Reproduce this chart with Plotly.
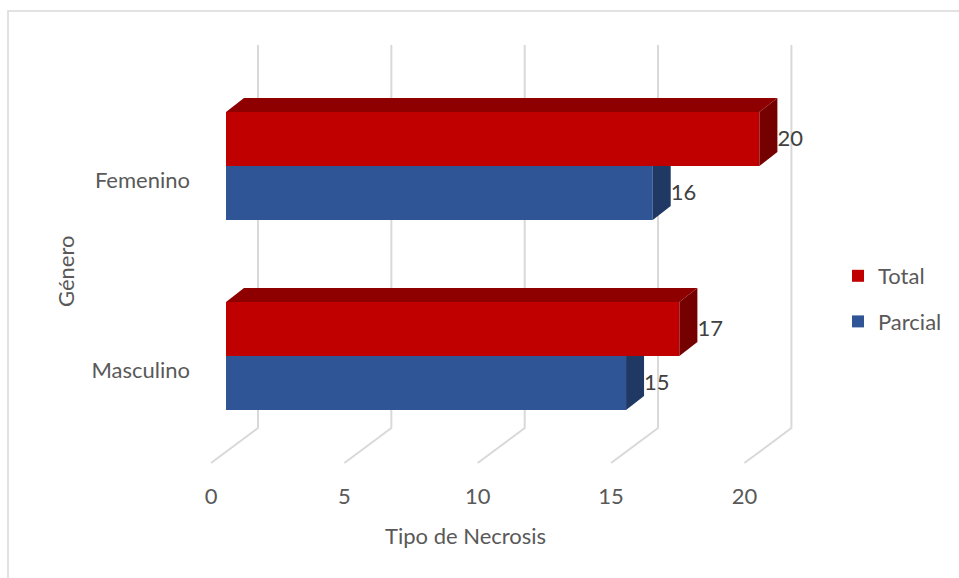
import plotly.graph_objects as go

# ---- data ----
categories = ["Masculino", "Femenino"]
total_vals = [17, 20]
parcial_vals = [15, 16]
x_ticks = [0, 5, 10, 15, 20]
series_names = ["Total", "Parcial"]

# ---- style / geometry constants (data units) ----
W, H = 959, 578
ML, MR, MT, MB = 195, 129, 40, 100
PX_PER_X = 26.67
PX_PER_Y = 190.0
plot_w = W - ML - MR
plot_h = H - MT - MB
x0 = -(226 - ML) / PX_PER_X
x1 = x0 + plot_w / PX_PER_X
y_top = (356 - MT) / PX_PER_Y
y_bot = y_top - plot_h / PX_PER_Y

bar_h = 54 / PX_PER_Y          # bar thickness
ddx = 18 / PX_PER_X            # 3D depth offset (x)
ddy = 14 / PX_PER_Y            # 3D depth offset (y)
wall_dx = 32 / PX_PER_X        # back wall offset from bar origin
floor_dx = 47 / PX_PER_X       # floor depth (x)
floor_dy = 35 / PX_PER_Y       # floor depth (y)
grid_top = (356 - 45) / PX_PER_Y
grid_bot = (356 - 428) / PX_PER_Y
label_shift = 14 / PX_PER_Y

RED, RED_TOP, RED_SIDE = "#C00000", "#8E0000", "#740000"
BLUE, BLUE_SIDE = "#2F5597", "#1F3864"
GRID = "#D9D9D9"
TXT = "#595959"
FONT = "Lato"

pos = list(range(len(categories)))

fig = go.Figure()

# gridlines (back wall + floor diagonals)
shapes = []
for t in x_ticks:
    xb = t + wall_dx
    xf = xb - floor_dx
    shapes.append(dict(type="path", xref="x", yref="y", layer="below",
                       path=f"M{xb},{grid_top} L{xb},{grid_bot} L{xf},{grid_bot - floor_dy}",
                       line=dict(color=GRID, width=2)))

# border of chart area
shapes.append(dict(type="rect", xref="paper", yref="paper",
                   x0=(8 - ML) / plot_w, x1=(968 - ML) / plot_w,
                   y0=(H - MB - 588) / plot_h, y1=(H - MB - 11) / plot_h,
                   line=dict(color=GRID, width=1.5), fillcolor="rgba(0,0,0,0)", layer="below"))

# front faces
fig.add_trace(go.Bar(name="Total", y=pos, x=total_vals, base=0, orientation="h",
                     width=bar_h, offset=0, marker=dict(color=RED, line=dict(width=0)),
                     legendgroup="a", legendrank=1))
fig.add_trace(go.Bar(name="Parcial", y=pos, x=parcial_vals, base=0, orientation="h",
                     width=bar_h, offset=-bar_h, marker=dict(color=BLUE, line=dict(width=0)),
                     legendgroup="b", legendrank=2))

# 3D faces
for c, vt, vp in zip(pos, total_vals, parcial_vals):
    fig.add_trace(go.Scatter(
        x=[vp, vp, vp + ddx, vp + ddx, vp],
        y=[c - bar_h, c, c, c - bar_h + ddy, c - bar_h],
        fill="toself", fillcolor=BLUE_SIDE, mode="lines", line=dict(width=0),
        showlegend=False, hoverinfo="skip"))
    fig.add_trace(go.Scatter(
        x=[vt, vt, vt + ddx, vt + ddx, vt],
        y=[c, c + bar_h, c + bar_h + ddy, c + ddy, c],
        fill="toself", fillcolor=RED_SIDE, mode="lines", line=dict(width=0),
        showlegend=False, hoverinfo="skip"))
    fig.add_trace(go.Scatter(
        x=[0, vt, vt + ddx, ddx, 0],
        y=[c + bar_h, c + bar_h, c + bar_h + ddy, c + bar_h + ddy, c + bar_h],
        fill="toself", fillcolor=RED_TOP, mode="lines", line=dict(width=0),
        showlegend=False, hoverinfo="skip"))

# data labels
fig.add_trace(go.Scatter(x=[v + ddx for v in total_vals], y=[c + bar_h / 2 - 0.01 for c in pos],
                         mode="text", text=[str(v) for v in total_vals],
                         textposition="middle right",
                         textfont=dict(family=FONT, size=22, color="#404040"),
                         showlegend=False, hoverinfo="skip", cliponaxis=False))
fig.add_trace(go.Scatter(x=[v + ddx for v in parcial_vals], y=[c - bar_h / 2 - 0.01 for c in pos],
                         mode="text", text=[str(v) for v in parcial_vals],
                         textposition="middle right",
                         textfont=dict(family=FONT, size=22, color="#404040"),
                         showlegend=False, hoverinfo="skip", cliponaxis=False))

fig.update_layout(
    width=W, height=H, autosize=False,
    margin=dict(l=ML, r=MR, t=MT, b=MB, autoexpand=False),
    paper_bgcolor="white", plot_bgcolor="white",
    barmode="overlay",
    font=dict(family=FONT, size=22, color=TXT),
    showlegend=True,
    legend=dict(x=(838 - ML) / plot_w, y=(H - MB - 255) / plot_h, xanchor="left", yanchor="top",
                traceorder="grouped", tracegroupgap=14,
                font=dict(family=FONT, size=22, color=TXT), bgcolor="rgba(0,0,0,0)"),
    xaxis=dict(range=[x0, x1], showgrid=False, zeroline=False, showline=False,
               tickvals=[t + wall_dx - floor_dx for t in x_ticks],
               ticktext=[str(t) for t in x_ticks], ticks="", ticklabelstandoff=3,
               fixedrange=True),
    yaxis=dict(range=[y_bot, y_top], showgrid=False, zeroline=False, showline=False,
               tickvals=[c - label_shift for c in pos], ticktext=categories,
               ticks="", ticklabelstandoff=4, fixedrange=True),
    shapes=shapes,
    annotations=[
        dict(text="Tipo de Necrosis", xref="paper", yref="paper",
             x=(465 - ML) / plot_w, y=(H - MB - 535) / plot_h,
             xanchor="center", yanchor="middle",
             showarrow=False, font=dict(family=FONT, size=22, color=TXT)),
        dict(text="Género", xref="paper", yref="paper", textangle=-90,
             x=(65 - ML) / plot_w, y=(H - MB - 272) / plot_h,
             xanchor="center", yanchor="middle",
             showarrow=False, font=dict(family=FONT, size=22, color=TXT)),
    ],
)

fig.write_html("out.html", config={"responsive": False, "displayModeBar": False},
               post_script="document.body.style.margin='0px';document.body.style.overflow='hidden';")
